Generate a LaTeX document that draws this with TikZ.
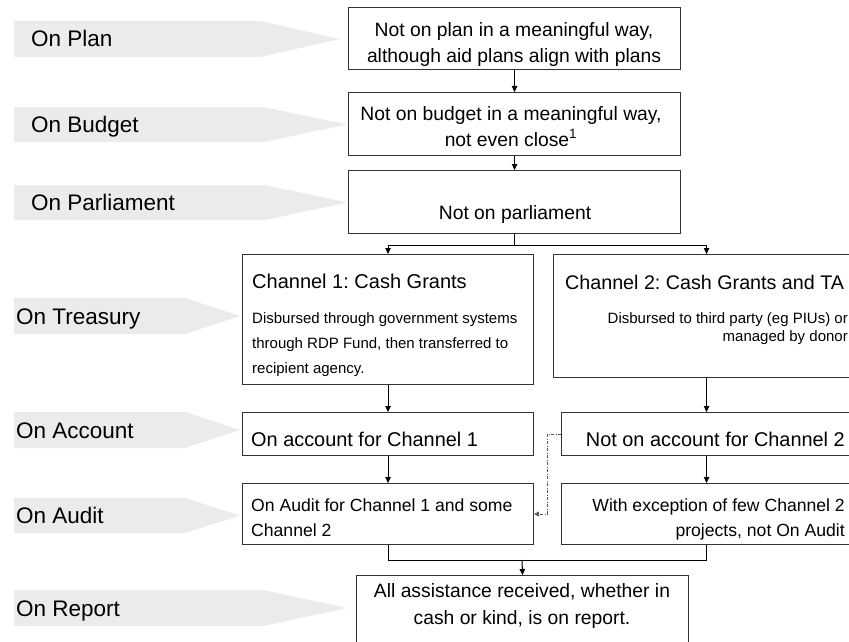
\documentclass[tikz,border=0pt]{standalone}
\usepackage{fontspec}
\setmainfont{Liberation Sans}
\usetikzlibrary{arrows.meta}
\definecolor{labgray}{HTML}{EBEBEB}
\definecolor{boxline}{HTML}{333333}
\definecolor{dashline}{HTML}{555555}
\frenchspacing
\begin{document}
\begin{tikzpicture}[x=1pt,y=-1pt,
  lab/.style={fill=labgray, draw=none},
  labtext/.style={anchor=base west, inner sep=0pt, font=\fontsize{22.5}{27}\selectfont},
  box/.style={draw=boxline, line width=1.1pt, anchor=north west, inner sep=0pt, fill=white},
  txt/.style={inner sep=0pt, font=\fontsize{19.3}{26.5}\selectfont},
  small/.style={inner sep=0pt, font=\fontsize{15}{25}\selectfont},
  arr/.style={line width=1pt, -{Triangle[length=6pt,width=5.5pt]}},
  con/.style={line width=1pt},
  dd/.style={line width=0.8pt, draw=dashline, dash pattern=on 3pt off 1.5pt on 1pt off 1.5pt, -{Triangle[length=5pt,width=5pt]}}]
\useasboundingbox (0,0) rectangle (849,642);
\clip (0,0) rectangle (849,642);

% left labels
\fill[lab] (14,21) -- (260,21) -- (340,39) -- (260,57) -- (14,57) -- cycle;
\fill[lab] (14,107) -- (263,107) -- (347,124.5) -- (263,142) -- (14,142) -- cycle;
\fill[lab] (14,185) -- (265,185) -- (347,202.5) -- (265,220) -- (14,220) -- cycle;
\fill[lab] (14,298) -- (185,298) -- (240,316) -- (185,334) -- (14,334) -- cycle;
\fill[lab] (14,412) -- (185,412) -- (240,430) -- (185,448) -- (14,448) -- cycle;
\fill[lab] (14,498) -- (185,498) -- (240,515.5) -- (185,533) -- (14,533) -- cycle;
\fill[lab] (14,590) -- (263,590) -- (347,608) -- (263,626) -- (14,626) -- cycle;

\node[labtext] (lplan) at (31,47) {On Plan};
\node[labtext] (lbudget) at (31,132.5) {On Budget};
\node[labtext] (lparl) at (31,210.5) {On Parliament};
\node[labtext] (ltreas) at (16,324) {On Treasury};
\node[labtext] (lacc) at (16,438) {On Account};
\node[labtext] (laud) at (16,523.5) {On Audit};
\node[labtext] (lrep) at (16,616) {On Report};

% boxes
\node[box, minimum width=332pt, minimum height=62pt] (plan) at (348,7) {};
\node[box, minimum width=332pt, minimum height=63pt] (budget) at (348,92) {};
\node[box, minimum width=332pt, minimum height=63pt] (parl) at (348,170) {};
\node[box, minimum width=291pt, minimum height=130pt] (ch1) at (242,254) {};
\node[box, minimum width=306pt, minimum height=123pt] (ch2) at (553,254) {};
\node[box, minimum width=291pt, minimum height=43pt] (acc1) at (242,412) {};
\node[box, minimum width=290pt, minimum height=43pt] (acc2) at (561,412) {};
\node[box, minimum width=291pt, minimum height=61pt] (aud1) at (242,483) {};
\node[box, minimum width=290pt, minimum height=61pt] (aud2) at (561,483) {};
\node[box, minimum width=332pt, minimum height=75pt] (rep) at (356,575) {};

% texts
\node[txt, align=center, anchor=north] (plant) at (514,22.2) {Not on plan in a meaningful way,\\although aid plans align with plans};
\node[txt, align=center, anchor=north, font=\fontsize{19.3}{26}\selectfont] (budgett) at (511,106.2) {Not on budget in a meaningful way,\\not even close\textsuperscript{1}};
\node[txt, anchor=north] (parlt) at (515,205.2) {Not on parliament};
\node[txt, anchor=north west, font=\fontsize{20}{26}\selectfont] (ch1t) at (252,273.7) {Channel 1: Cash Grants};
\node[small, align=left, anchor=north west] (ch1d) at (252,312.6) {Disbursed through government systems\\through RDP Fund, then transferred to\\recipient agency.};
\node[txt, anchor=north west, font=\fontsize{19.7}{26}\selectfont] (ch2t) at (565,274.9) {Channel 2: Cash Grants and TA};
\node[small, align=right, anchor=north east, font=\fontsize{15}{18.3}\selectfont] (ch2d) at (848,312.4) {Disbursed to third party (eg PIUs) or\\managed by donor};
\node[txt, anchor=north west, font=\fontsize{19.9}{26}\selectfont] (acc1t) at (251,431.8) {On account for Channel 1};
\node[txt, anchor=north east, font=\fontsize{19.9}{26}\selectfont] (acc2t) at (845,431.8) {Not on account for Channel 2};
\node[txt, align=left, anchor=north west, font=\fontsize{17.6}{25}\selectfont] (aud1t) at (251,498.1) {On Audit for Channel 1 and some\\Channel 2};
\node[txt, align=right, anchor=north east, font=\fontsize{17.6}{25}\selectfont] (aud2t) at (845,498.1) {With exception of few Channel 2\\projects, not On Audit};
\node[txt, align=center, anchor=north, font=\fontsize{19.3}{27}\selectfont] (rept) at (522,583.5) {All assistance received, whether in\\cash or kind, is on report.};

% connectors
\draw[arr] (plan.south) -- (budget.north);
\draw[arr] (budget.south) -- (parl.north);
\draw[arr] (parl.south) -- ++(0,11) -| (ch1.north);
\draw[arr] (parl.south) -- ++(0,11) -| (ch2.north);
\draw[arr] (ch1.south) -- (acc1.north);
\draw[arr] (ch2.south) -- (acc2.north);
\draw[arr] (acc1.south) -- (aud1.north);
\draw[arr] (acc2.south) -- (aud2.north);
\coordinate (merge) at (522,560);
\draw[con] (aud1.south) |- (merge);
\draw[con] (aud2.south) |- (merge);
\draw[arr] (merge) -- (rep.north);
\draw[dd] (acc2.west) -- ++(-14,0) |- (aud1.east);
\end{tikzpicture}
\end{document}
